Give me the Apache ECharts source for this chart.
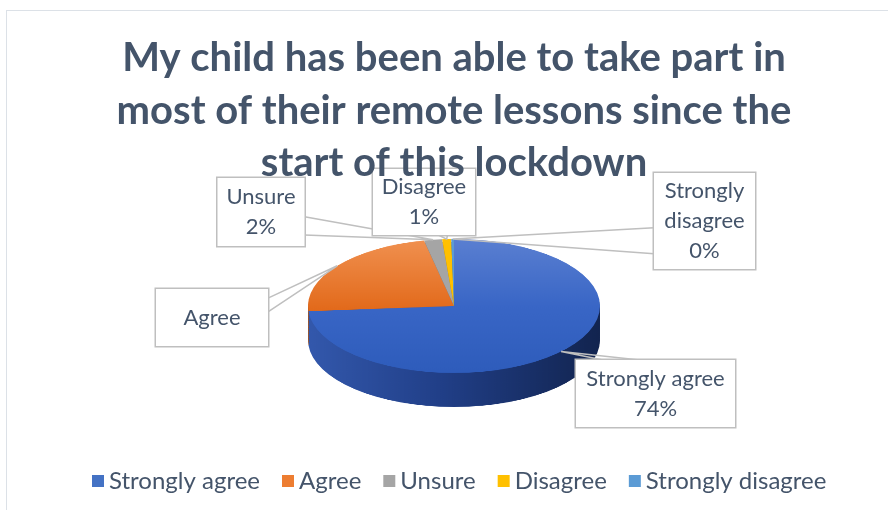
<!DOCTYPE html>
<html>
<head>
<meta charset="utf-8">
<script src="https://cdn.jsdelivr.net/npm/echarts@6/dist/echarts.min.js"></script>
<style>
  html, body { margin: 0; padding: 0; width: 888px; height: 510px; overflow: hidden; background: #fff; }
  #frame { position: absolute; left: 6px; top: 10px; width: 900px; height: 520px; border: 1.5px solid #DCE1E7; box-sizing: border-box; }
  /* pie is drawn round, then flattened to get the 3D tilt */
  #pieBody { position: absolute; left: 0; top: 0; width: 888px; height: 900px; transform-origin: 0 0; }
  #overlay { position: absolute; left: 0; top: 0; width: 888px; height: 510px; }
</style>
</head>
<body>
<div id="frame"></div>
<div id="pieBody"></div>
<div id="overlay"></div>
<script>
// data
const categories = ['Strongly agree', 'Agree', 'Unsure', 'Disagree', 'Strongly disagree'];
const values = [74, 23, 2, 1, 0.3];
const labelTexts = ['Strongly agree\n74%', 'Agree', 'Unsure\n2%', 'Disagree\n1%', 'Strongly\ndisagree\n0%'];
const titleText = 'My child has been able to take part in\nmost of their remote lessons since the\nstart of this lockdown';

// styles
const topColors = [
  { type: 'linear', x: 0, y: 0, x2: 0, y2: 1, colorStops: [{ offset: 0, color: '#5A7FD1' }, { offset: 0.5, color: '#3966C6' }, { offset: 1, color: '#2E5CBB' }] },
  { type: 'linear', x: 0, y: 0, x2: 0, y2: 1, colorStops: [{ offset: 0, color: '#F0904F' }, { offset: 1, color: '#E2691A' }] },
  '#A5A5A5', '#FFC000', '#5B9BD5'
];
const sideColors = [
  { type: 'linear', x: 0, y: 0, x2: 1, y2: 0, colorStops: [{ offset: 0, color: '#3358AC' }, { offset: 0.45, color: '#213F88' }, { offset: 1, color: '#12244F' }] },
  '#A2521E', '#6E6E6E', '#B08400', '#3A6EA0'
];
const legendColors = ['#4472C4', '#ED7D31', '#A5A5A5', '#FFC000', '#5B9BD5'];

// layout
const cx = 454, cy = 306, rx = 146, ry = 67, depth = 34;
const k = ry / rx;
const layers = 12;
const calloutBoxes = [
  { x: 655.5, y: 393.5, w: 159, h: 67, side: 'top', t: [0.17, 0.40] },
  { x: 212, y: 317.5, w: 112, h: 57, side: 'right', t: [0.16, 0.40] },
  { x: 261, y: 212, w: 87, h: 68, side: 'right', t: [0.57, 0.84] },
  { x: 424, y: 202, w: 102, h: 66, side: 'bottom', t: [0.64, 0.73] },
  { x: 704.5, y: 221, w: 101, h: 96, side: 'left', t: [0.57, 0.84] }
];
const fontFamily = 'Lato';
const textColor = '#44546A';

document.getElementById('pieBody').style.transform = 'scaleY(' + k + ')';

// ---- flattened pie: side wall layers + top face
const pieChart = echarts.init(document.getElementById('pieBody'));
const pieSeries = [];
for (let i = layers; i >= 1; i--) {
  const off = depth / k * i / layers;
  pieSeries.push({
    type: 'pie',
    center: [cx, cy / k + off],
    radius: rx,
    startAngle: 90,
    silent: true,
    label: { show: false },
    labelLine: { show: false },
    data: values.map((v, j) => ({ name: categories[j], value: v, itemStyle: { color: sideColors[j] } }))
  });
}
pieSeries.push({
  type: 'pie',
  center: [cx, cy / k],
  radius: rx,
  startAngle: 90,
  silent: true,
  label: { show: false },
  labelLine: { show: false },
  data: values.map((v, j) => ({ name: categories[j], value: v, itemStyle: { color: topColors[j] } }))
});
pieChart.setOption({ animation: false, series: pieSeries });

// ---- title, legend and callouts
function squash(pt) {
  return [pt[0], cy + (pt[1] - cy) * k];
}

const overlay = echarts.init(document.getElementById('overlay'));
overlay.setOption({
  animation: false,
  title: {
    text: titleText,
    left: 449,
    top: 27,
    textAlign: 'center',
    textStyle: { fontFamily: fontFamily, fontSize: 40, fontWeight: 'bold', color: textColor, lineHeight: 52.5 }
  },
  legend: {
    left: 87,
    top: 464,
    icon: 'rect',
    itemWidth: 12,
    itemHeight: 12,
    itemGap: 22,
    selectedMode: false,
    textStyle: { fontFamily: fontFamily, fontSize: 24, color: textColor },
    data: categories.map((n, i) => ({ name: n, itemStyle: { color: legendColors[i], opacity: 1 } }))
  },
  series: [{
    type: 'pie',
    center: [cx, cy],
    radius: rx,
    startAngle: 90,
    silent: true,
    avoidLabelOverlap: false,
    itemStyle: { color: 'rgba(0,0,0,0)' },
    label: {
      show: true,
      position: 'outside',
      fontFamily: fontFamily,
      fontSize: 22,
      lineHeight: 30,
      color: textColor,
      backgroundColor: '#fff',
      borderColor: '#BFBFBF',
      borderWidth: 1.5,
      formatter: p => labelTexts[p.dataIndex]
    },
    labelLine: { show: true, length: 10, length2: 10, lineStyle: { color: '#BFBFBF', width: 1.5 } },
    labelLayout: function (p) {
      const b = calloutBoxes[p.dataIndex];
      const x0 = b.x - b.w / 2, y0 = b.y - b.h / 2;
      const tip = squash(p.labelLinePoints[0]);
      let a, c;
      if (b.side === 'top') { a = [x0 + b.w * b.t[0], y0]; c = [x0 + b.w * b.t[1], y0]; }
      else if (b.side === 'bottom') { a = [x0 + b.w * b.t[0], y0 + b.h]; c = [x0 + b.w * b.t[1], y0 + b.h]; }
      else if (b.side === 'right') { a = [x0 + b.w, y0 + b.h * b.t[0]]; c = [x0 + b.w, y0 + b.h * b.t[1]]; }
      else { a = [x0, y0 + b.h * b.t[0]]; c = [x0, y0 + b.h * b.t[1]]; }
      return { x: b.x, y: b.y, align: 'center', verticalAlign: 'middle', labelLinePoints: [a, tip, c] };
    },
    data: values.map((v, j) => {
      const b = calloutBoxes[j];
      const lines = labelTexts[j].split('\n').length;
      return {
        name: categories[j],
        value: v,
        label: { width: b.w, padding: [(b.h - lines * 30) / 2, 0] }
      };
    })
  }]
});
</script>
</body>
</html>
